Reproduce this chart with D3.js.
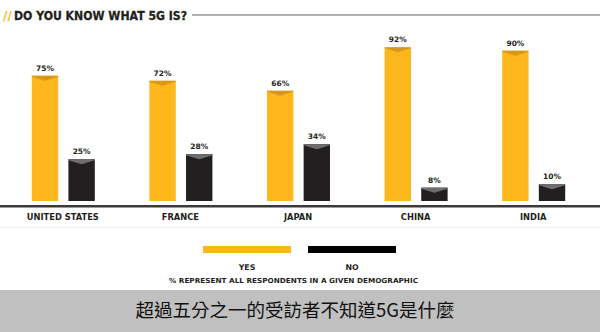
<!DOCTYPE html>
<html>
<head>
<meta charset="utf-8">
<script src="https://cdn.jsdelivr.net/npm/d3@7/dist/d3.min.js"></script>
<style>
  html, body { margin: 0; padding: 0; background: #fff; }
  svg { display: block; }
</style>
</head>
<body>
<svg id="chart" width="600" height="332"></svg>
<script>
// Survey: share of respondents who know what 5G is
const countries = ["UNITED STATES", "FRANCE", "JAPAN", "CHINA", "INDIA"];
const yesValues = [75, 72, 66, 92, 90];
const noValues = [25, 28, 34, 8, 10];
const seriesNames = ["YES", "NO"];
const titleText = "DO YOU KNOW WHAT 5G IS?";
const noteText = "% REPRESENT ALL RESPONDENTS IN A GIVEN DEMOGRAPHIC";
const captionText = "超過五分之一的受訪者不知道5G是什麼";

const W = 600, H = 332;
const YELLOW = "#FDB71A", YELLOW_TIP = "#D8991A";
const BLACK = "#231F20", BLACK_TIP = "#6E6E6E";
const FONT = "'DejaVu Sans', 'Open Sans', sans-serif";

const svg = d3.select("#chart");

const rows = countries.map((c, i) => ({ country: c, yes: yesValues[i], no: noValues[i] }));

const x = d3.scaleBand().domain(countries).range([4, 592]).paddingInner(0).paddingOuter(0);
const sub = d3.scaleBand().domain(seriesNames).range([-31, 32]).paddingInner(0.28);
const y = d3.scaleLinear().domain([0, 100]).range([201, 34]);

// Title with accent slashes and rule
svg.append("text").attr("x", 3).attr("y", 19.5)
  .attr("font-family", FONT).attr("font-weight", 700).attr("font-size", 12)
  .attr("fill", YELLOW).text("//");
svg.append("text").attr("x", 14).attr("y", 19.5)
  .attr("font-family", FONT).attr("font-weight", 700).attr("font-size", 12)
  .attr("fill", "#231F20").attr("stroke", "#231F20").attr("stroke-width", 0.3)
  .attr("textLength", 173).attr("lengthAdjust", "spacingAndGlyphs")
  .text(titleText);
const tEnd = 14 + 173;
svg.append("line").attr("x1", tEnd + 5).attr("x2", 600).attr("y1", 15).attr("y2", 15)
  .attr("stroke", "#9a9a9a").attr("stroke-width", 1.5);

// Bars
const groups = svg.append("g").selectAll("g").data(rows).join("g")
  .attr("transform", d => `translate(${x(d.country) + x.bandwidth() / 2},0)`);

const bars = groups.selectAll("g.bar").data(d => [
  { key: "YES", v: d.yes, fill: YELLOW, tip: YELLOW_TIP },
  { key: "NO", v: d.no, fill: BLACK, tip: BLACK_TIP }
]).join("g").attr("class", "bar");

bars.append("rect")
  .attr("x", d => sub(d.key)).attr("width", sub.bandwidth())
  .attr("y", d => y(d.v)).attr("height", d => y(0) - y(d.v))
  .attr("fill", d => d.fill);

// Chevron shading at the top of each bar
bars.append("path")
  .attr("d", d => {
    const x0 = sub(d.key), x1 = x0 + sub.bandwidth(), t = y(d.v);
    return `M${x0},${t}L${x1},${t}L${x1},${t + 1}L${(x0 + x1) / 2},${t + 5}L${x0},${t + 1}Z`;
  })
  .attr("fill", d => d.tip);

bars.append("text")
  .attr("x", d => sub(d.key) + sub.bandwidth() / 2)
  .attr("y", d => y(d.v) - 5)
  .attr("text-anchor", "middle")
  .attr("font-family", FONT).attr("font-weight", 700).attr("font-size", 7.5)
  .attr("fill", "#231F20")
  .text(d => d.v + "%");

// Baseline axis
svg.append("rect").attr("x", 0).attr("y", 205).attr("width", 600).attr("height", 2.5).attr("fill", "#3a3a3a");
svg.append("line").attr("x1", 0).attr("x2", 600).attr("y1", 227.5).attr("y2", 227.5)
  .attr("stroke", "#f0f0f0").attr("stroke-width", 1);

const xAxis = d3.axisBottom(x).tickSize(0).tickPadding(0);
const ax = svg.append("g").attr("transform", "translate(0,214)").call(xAxis);
ax.select(".domain").remove();
ax.selectAll("text")
  .attr("dy", "0.71em")
  .attr("font-family", FONT).attr("font-weight", 700).attr("font-size", 8.3)
  .attr("fill", "#231F20");

// Legend
const legend = d3.scaleOrdinal().domain(seriesNames).range([247, 352]);
const legendColor = d3.scaleOrdinal().domain(seriesNames).range([YELLOW, "#000"]);
const lg = svg.append("g").selectAll("g").data(seriesNames).join("g")
  .attr("transform", d => `translate(${legend(d)},0)`);
lg.append("rect").attr("x", -44).attr("width", 88).attr("y", 246).attr("height", 7)
  .attr("fill", d => legendColor(d));
lg.append("text").attr("y", 270).attr("text-anchor", "middle")
  .attr("font-family", FONT).attr("font-weight", 700).attr("font-size", 7.8)
  .attr("fill", "#231F20").text(d => d);

svg.append("text").attr("x", 293.5).attr("y", 283).attr("text-anchor", "middle")
  .attr("font-family", FONT).attr("font-weight", 700).attr("font-size", 6.8)
  .attr("textLength", 249).attr("lengthAdjust", "spacingAndGlyphs")
  .attr("fill", "#231F20").text(noteText);

// Caption banner
svg.append("rect").attr("x", 0).attr("y", 290).attr("width", 600).attr("height", 42).attr("fill", "#c0c0c0");
svg.append("text").attr("x", 295).attr("y", 317).attr("text-anchor", "middle")
  .attr("font-family", "'Noto Sans CJK TC', sans-serif").attr("font-size", 18.5)
  .attr("fill", "#111").text(captionText);
</script>
</body>
</html>
